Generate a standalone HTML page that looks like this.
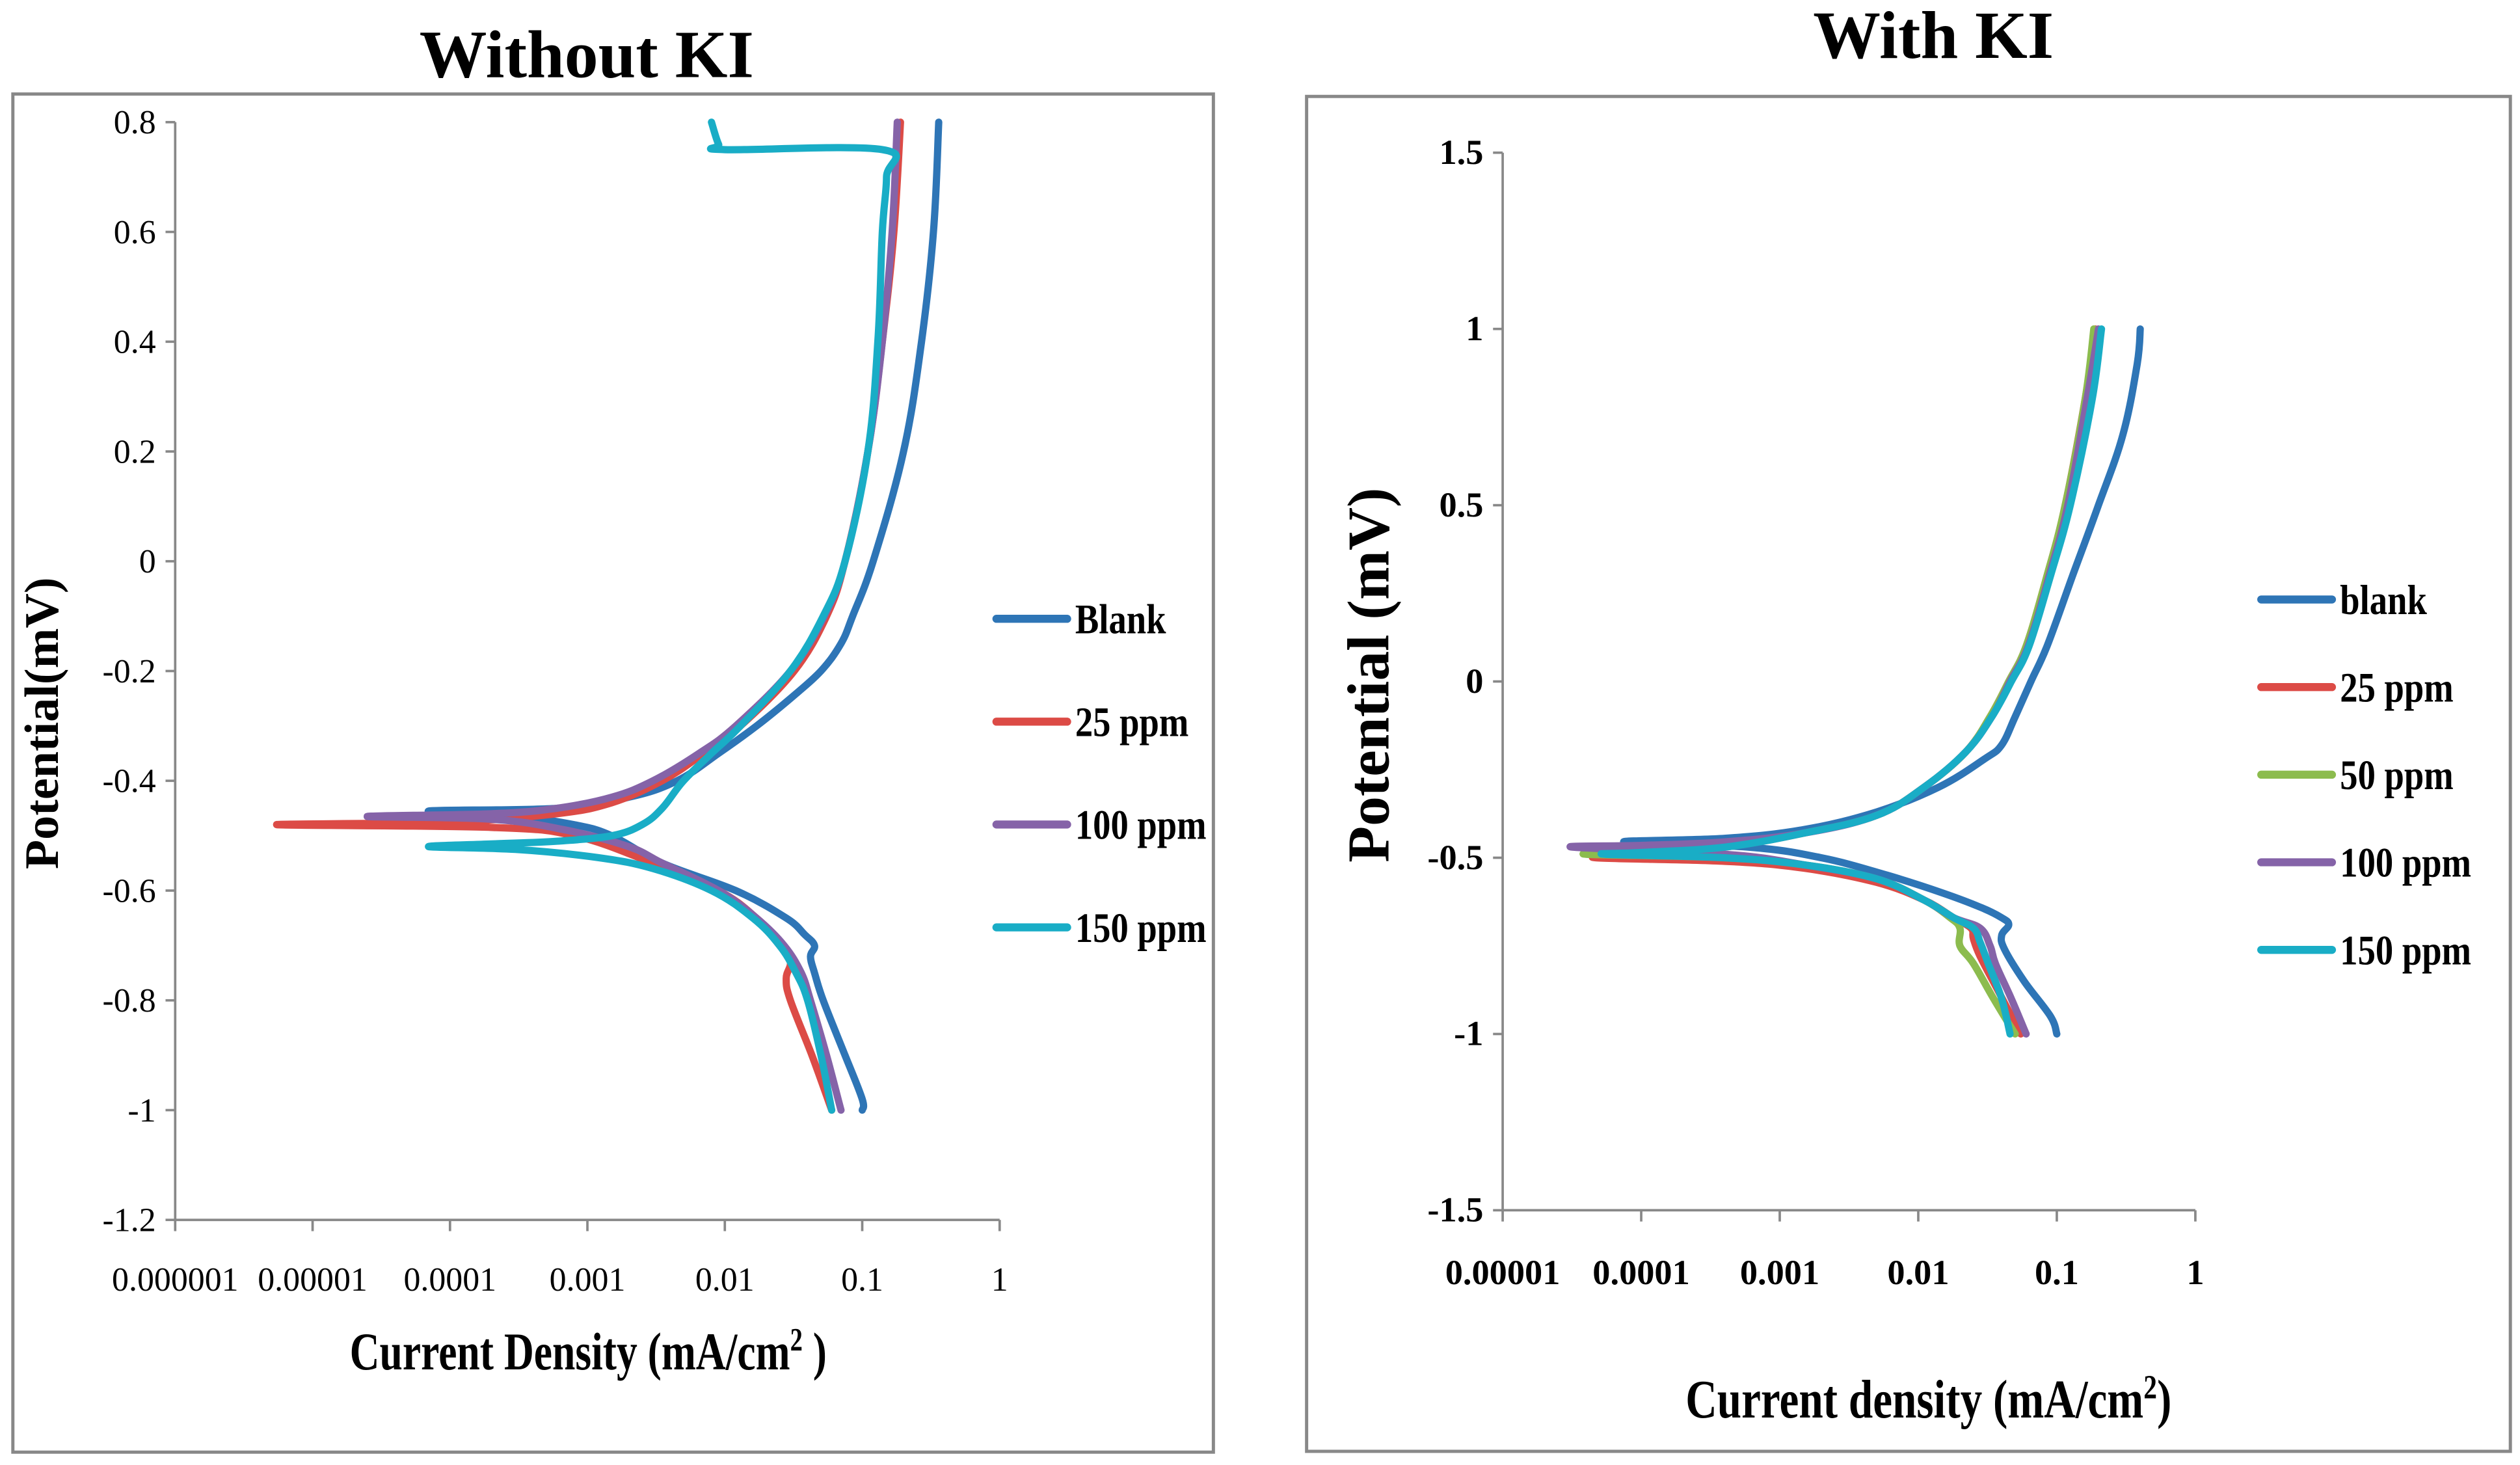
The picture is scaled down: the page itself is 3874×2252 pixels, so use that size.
<!DOCTYPE html>
<html><head><meta charset="utf-8"><style>
html,body{margin:0;padding:0;background:#fff;}
svg{display:block;}
text{font-family:"Liberation Serif",serif;fill:#000;}
</style></head><body>
<svg id="fig" width="3874" height="2252" viewBox="0 0 1568 911.5" xmlns="http://www.w3.org/2000/svg">
<rect x="0" y="0" width="1568" height="911.5" fill="#fff"/>
<g id="left">
<rect x="8" y="58.5" width="747" height="845" fill="none" stroke="#888" stroke-width="2"/>
<text x="365" y="48" text-anchor="middle" font-size="42" font-weight="bold">Without KI</text>
<text transform="translate(36,450) rotate(-90)" text-anchor="middle" font-size="30" font-weight="bold">Potential(mV)</text>
<text transform="translate(366,852) scale(0.78,1)" text-anchor="middle" font-size="33" font-weight="bold">Current Density (mA/cm<tspan font-size="20" dy="-12">2</tspan><tspan dy="12"> )</tspan></text>
</g>
<g id="right">
<rect x="813" y="60" width="749" height="843" fill="none" stroke="#888" stroke-width="2"/>
<text x="1203" y="36" text-anchor="middle" font-size="42" font-weight="bold">With KI</text>
<text transform="translate(864,420) rotate(-90)" text-anchor="middle" font-size="37" font-weight="bold">Potential (mV)</text>
<text transform="translate(1200,882) scale(0.8,1)" text-anchor="middle" font-size="34" font-weight="bold">Current density (mA/cm<tspan font-size="21" dy="-12">2</tspan><tspan dy="12">)</tspan></text>
</g>
</svg>
<script>
// ---------- Left chart data ----------
var leftXTicks = ["0.000001","0.00001","0.0001","0.001","0.01","0.1","1"];
var leftYTicks = [0.8,0.6,0.4,0.2,0,-0.2,-0.4,-0.6,-0.8,-1,-1.2];
var leftSeriesNames = ["Blank","25 ppm","100 ppm","150 ppm"];
var leftBlankI = [0.36,0.33,0.27,0.2,0.12,0.085,0.07,0.05,0.03,0.017,0.009,0.0045,0.002,0.0006,0.00007,0.0003,0.0008,0.0015,0.0035,0.012,0.028,0.038,0.045,0.042,0.045,0.052,0.075,0.1,0.1];
var leftBlankE = [0.8,0.6,0.4,0.2,0,-0.1,-0.15,-0.2,-0.25,-0.3,-0.35,-0.4,-0.43,-0.45,-0.455,-0.465,-0.48,-0.5,-0.55,-0.6,-0.65,-0.68,-0.7,-0.72,-0.75,-0.8,-0.9,-0.98,-1.0];
var left25I = [0.19,0.17,0.14,0.11,0.075,0.055,0.032,0.013,0.007,0.0035,0.0015,0.0006,0.0001,0.0000055,0.0002,0.0008,0.003,0.009,0.017,0.026,0.03,0.028,0.03,0.043,0.06];
var left25E = [0.8,0.6,0.4,0.2,0,-0.1,-0.2,-0.3,-0.35,-0.4,-0.44,-0.46,-0.475,-0.48,-0.485,-0.5,-0.55,-0.6,-0.65,-0.7,-0.73,-0.76,-0.8,-0.9,-1.0];
var left100I = [0.18,0.165,0.14,0.11,0.075,0.053,0.03,0.012,0.0065,0.003,0.0015,0.0006,0.0002,0.000025,0.0002,0.0007,0.002,0.0035,0.009,0.017,0.027,0.036,0.042,0.055,0.07];
var left100E = [0.8,0.6,0.4,0.2,0,-0.1,-0.2,-0.3,-0.35,-0.4,-0.43,-0.45,-0.46,-0.465,-0.47,-0.49,-0.52,-0.55,-0.6,-0.65,-0.7,-0.75,-0.8,-0.9,-1.0];
var left150I = [0.008,0.009,0.01,0.14,0.15,0.14,0.13,0.11,0.075,0.052,0.03,0.013,0.008,0.005,0.0035,0.0025,0.0015,0.0006,0.0002,0.00007,0.0003,0.0012,0.003,0.008,0.016,0.025,0.033,0.04,0.05,0.06];
var left150E = [0.8,0.76,0.75,0.75,0.7,0.6,0.4,0.2,0,-0.1,-0.2,-0.3,-0.35,-0.4,-0.45,-0.48,-0.5,-0.51,-0.515,-0.52,-0.525,-0.54,-0.56,-0.6,-0.65,-0.7,-0.75,-0.8,-0.9,-1.0];
// ---------- Right chart data ----------
var rightXTicks = ["0.00001","0.0001","0.001","0.01","0.1","1"];
var rightYTicks = [1.5,1,0.5,0,-0.5,-1,-1.5];
var rightSeriesNames = ["blank","25 ppm","50 ppm","100 ppm","150 ppm"];
var rightBlankI = [0.4,0.38,0.3,0.2,0.13,0.085,0.065,0.05,0.04,0.03,0.014,0.005,0.0015,0.0004,0.000075,0.0006,0.002,0.006,0.015,0.028,0.04,0.045,0.04,0.042,0.058,0.09,0.1];
var rightBlankE = [1.0,0.9,0.7,0.5,0.3,0.1,0,-0.1,-0.18,-0.22,-0.3,-0.37,-0.42,-0.445,-0.455,-0.47,-0.5,-0.55,-0.6,-0.64,-0.67,-0.69,-0.72,-0.76,-0.85,-0.95,-1.0];
var right25I = [0.19,0.16,0.115,0.085,0.06,0.045,0.033,0.022,0.011,0.005,0.0015,0.0004,0.0001,0.000047,0.0004,0.0015,0.005,0.011,0.018,0.024,0.025,0.028,0.038,0.055];
var right25E = [1.0,0.8,0.5,0.3,0.1,0,-0.1,-0.2,-0.3,-0.38,-0.43,-0.47,-0.49,-0.5,-0.51,-0.53,-0.57,-0.62,-0.67,-0.7,-0.73,-0.78,-0.88,-1.0];
var right50I = [0.185,0.16,0.115,0.085,0.06,0.045,0.033,0.022,0.011,0.005,0.0015,0.0004,0.0001,0.00004,0.0004,0.0015,0.005,0.011,0.017,0.02,0.02,0.025,0.035,0.05];
var right50E = [1.0,0.8,0.5,0.3,0.1,0,-0.1,-0.2,-0.3,-0.38,-0.43,-0.465,-0.485,-0.49,-0.5,-0.52,-0.56,-0.62,-0.67,-0.7,-0.75,-0.8,-0.9,-1.0];
var right100I = [0.2,0.165,0.12,0.088,0.062,0.046,0.034,0.022,0.011,0.005,0.0015,0.0004,0.0001,0.000032,0.0004,0.0015,0.005,0.011,0.018,0.028,0.033,0.036,0.047,0.06];
var right100E = [1.0,0.8,0.5,0.3,0.1,0,-0.1,-0.2,-0.3,-0.38,-0.43,-0.455,-0.465,-0.47,-0.49,-0.52,-0.56,-0.62,-0.67,-0.7,-0.75,-0.8,-0.9,-1.0];
var right150I = [0.21,0.18,0.125,0.09,0.063,0.047,0.034,0.022,0.011,0.005,0.0015,0.0004,0.0001,0.000055,0.0004,0.0015,0.005,0.011,0.018,0.025,0.028,0.032,0.04,0.046];
var right150E = [1.0,0.8,0.5,0.3,0.1,0,-0.1,-0.2,-0.3,-0.38,-0.43,-0.47,-0.485,-0.49,-0.5,-0.52,-0.56,-0.62,-0.67,-0.7,-0.74,-0.8,-0.9,-1.0];

var NS = "http://www.w3.org/2000/svg";
var colors = ["#2e75b6","#dc4b46","#8cbc4e","#8563a8","#19adc6"];
function mk(tag, attrs, parent){var e=document.createElementNS(NS,tag);for(var k in attrs)e.setAttribute(k,attrs[k]);parent.appendChild(e);return e;}

function smoothPath(p){
  var d="M"+p[0][0].toFixed(1)+","+p[0][1].toFixed(1);
  for(var i=0;i<p.length-1;i++){
    var p0=p[i-1]||p[i],p1=p[i],p2=p[i+1],p3=p[i+2]||p2;
    var t=0.18;
    var c1x=p1[0]+(p2[0]-p0[0])*t,c1y=p1[1]+(p2[1]-p0[1])*t;
    var c2x=p2[0]-(p3[0]-p1[0])*t,c2y=p2[1]-(p3[1]-p1[1])*t;
    d+=" C"+c1x.toFixed(1)+","+c1y.toFixed(1)+" "+c2x.toFixed(1)+","+c2y.toFixed(1)+" "+p2[0].toFixed(1)+","+p2[1].toFixed(1);
  }
  return d;
}

function drawChart(g, cfg){
  var xs = function(v){return cfg.x0 + (Math.log10(v) - cfg.logMin) * cfg.dec;};
  var ys = function(v){return cfg.yTop + (cfg.yMax - v) / (cfg.yMax - cfg.yMin) * (cfg.yBot - cfg.yTop);};
  var ax = mk("line",{x1:cfg.x0,y1:cfg.yTop,x2:cfg.x0,y2:cfg.yBot,stroke:"#888","stroke-width":1.5},g);
  
  
  var xl = mk("line",{x1:cfg.x0,y1:cfg.yBot,x2:cfg.x0+cfg.dec*(cfg.xTicks.length-1),y2:cfg.yBot,stroke:"#888","stroke-width":1.5},g);
  
  
  cfg.yTicks.forEach(function(t){
    var y=ys(t);
    var tk=mk("line",{x1:cfg.x0-6,y1:y,x2:cfg.x0,y2:y,stroke:"#888","stroke-width":1.5},g);
    
    
    var tx=mk("text",{x:cfg.x0-12,y:y+7,"text-anchor":"end","font-size":cfg.tickSize,"font-weight":cfg.tickWeight},g);
    tx.textContent=String(t);
    
    
  });
  cfg.xTicks.forEach(function(t,i){
    var x=xs(parseFloat(t));
    var tk=mk("line",{x1:x,y1:cfg.yBot,x2:x,y2:cfg.yBot+7,stroke:"#888","stroke-width":1.5},g);
    
    
    var tx=mk("text",{x:x,y:cfg.yBot+cfg.xLabOff,"text-anchor":"middle","font-size":cfg.tickSize,"font-weight":cfg.tickWeight},g);
    tx.textContent=t;
    
    
  });
  cfg.series.forEach(function(s,i){
    var pts=s.I.map(function(v,j){return [xs(v),ys(s.E[j])];});
    var pl=mk("path",{d:smoothPath(pts),fill:"none",stroke:s.c,"stroke-width":4.5,"stroke-linejoin":"round","stroke-linecap":"round"},g);
    
    
    var ly=cfg.legY+i*cfg.legDy;
    var ll=mk("line",{x1:cfg.legX,y1:ly,x2:cfg.legX+44,y2:ly,stroke:s.c,"stroke-width":5,"stroke-linecap":"round"},g);
    
    
    var lt=mk("text",{transform:"translate("+(cfg.legX+49)+","+(ly+9)+") scale(0.85,1)","font-size":26,"font-weight":"bold"},g);
    lt.textContent=s.n;
    
    
  });
}

drawChart(document.getElementById("left"),{
  x0:109,logMin:-6,dec:85.5,yTop:76,yBot:759,yMax:0.8,yMin:-1.2,
  xTicks:leftXTicks,yTicks:leftYTicks,tickSize:21,tickWeight:"normal",xLabOff:44,
  legX:620,legY:385,legDy:64,
  series:[
    {n:leftSeriesNames[0],I:leftBlankI,E:leftBlankE,c:colors[0]},
    {n:leftSeriesNames[1],I:left25I,E:left25E,c:colors[1]},
    {n:leftSeriesNames[2],I:left100I,E:left100E,c:colors[3]},
    {n:leftSeriesNames[3],I:left150I,E:left150E,c:colors[4]}
  ]});
drawChart(document.getElementById("right"),{
  x0:935,logMin:-5,dec:86.2,yTop:95,yBot:753,yMax:1.5,yMin:-1.5,
  xTicks:rightXTicks,yTicks:rightYTicks,tickSize:22,tickWeight:"bold",xLabOff:46,
  legX:1407,legY:373,legDy:54.5,
  series:[
    {n:rightSeriesNames[0],I:rightBlankI,E:rightBlankE,c:colors[0]},
    {n:rightSeriesNames[1],I:right25I,E:right25E,c:colors[1]},
    {n:rightSeriesNames[2],I:right50I,E:right50E,c:colors[2]},
    {n:rightSeriesNames[3],I:right100I,E:right100E,c:colors[3]},
    {n:rightSeriesNames[4],I:right150I,E:right150E,c:colors[4]}
  ]});
</script>
</body></html>
